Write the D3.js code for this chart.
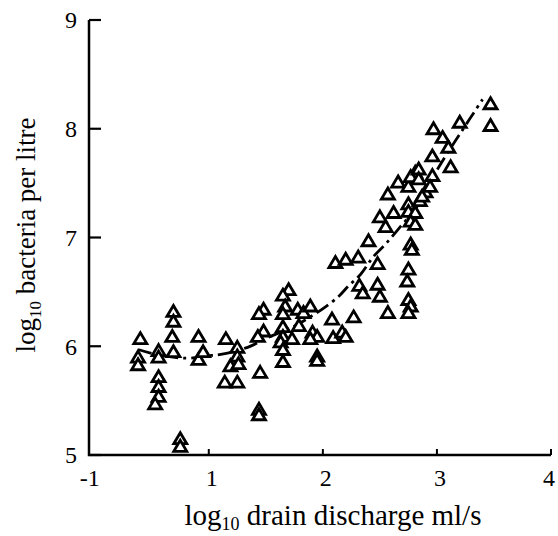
<!DOCTYPE html>
<html>
<head>
<meta charset="utf-8">
<script src="https://cdn.jsdelivr.net/npm/d3@7"></script>
<style>
  body { margin: 0; background: #fff; }
  svg { display: block; font-family: "Liberation Serif", "Times New Roman", serif; }
</style>
</head>
<body>
<div id="chart"></div>
<script>
// observed log10 discharge (ml/s) and log10 bacteria per litre
const discharge = [0.40, 0.38, 0.38, 0.56, 0.56, 0.56, 0.56, 0.56, 0.53, 0.69, 0.69, 0.68, 0.69, 0.75, 0.75,
  0.91, 0.91, 0.95, 1.15, 1.25, 1.25, 1.19, 1.26, 1.14, 1.25, 1.44, 1.44, 1.45, 1.48, 1.44, 1.48, 1.43,
  1.65, 1.65, 1.63, 1.73, 1.65, 1.65, 1.70, 1.65, 1.67, 1.65, 1.78, 1.83, 1.89, 1.79, 1.91, 1.95, 1.89,
  1.95, 1.95, 2.08, 2.09, 2.17, 2.20, 2.27, 2.11, 2.20, 2.31, 2.32, 2.35, 2.48, 2.50, 2.57, 2.75, 2.77,
  2.75, 2.48, 2.75, 2.74, 2.40, 2.50, 2.55, 2.62, 2.77, 2.78, 2.75, 2.75, 2.81, 2.77, 2.81, 2.57, 2.66,
  2.75, 2.81, 2.90, 2.85, 2.77, 2.84, 2.84, 2.96, 2.94, 2.87, 2.96, 3.12, 2.97, 3.05, 3.10, 3.20, 3.47, 3.47];
const bacteria = [6.07, 5.90, 5.83, 5.96, 5.90, 5.72, 5.63, 5.54, 5.47, 6.32, 6.23, 6.09, 5.95, 5.15, 5.08,
  6.09, 5.88, 5.95, 6.07, 5.99, 5.91, 5.82, 5.84, 5.67, 5.67, 5.42, 5.37, 5.76, 6.34, 6.30, 6.14, 6.09,
  6.18, 6.09, 6.04, 6.07, 5.97, 5.86, 6.52, 6.47, 6.37, 6.30, 6.34, 6.31, 6.37, 6.19, 6.13, 6.09, 6.07,
  5.91, 5.87, 6.25, 6.08, 6.13, 6.09, 6.27, 6.77, 6.80, 6.82, 6.56, 6.49, 6.57, 6.46, 6.31, 6.43, 6.37,
  6.31, 6.76, 6.71, 6.60, 6.97, 7.19, 7.10, 7.23, 6.94, 6.89, 7.31, 7.24, 7.23, 7.15, 7.12, 7.40, 7.51,
  7.47, 7.60, 7.42, 7.34, 7.56, 7.63, 7.54, 7.57, 7.47, 7.38, 7.75, 7.65, 8.00, 7.92, 7.83, 8.06, 8.23, 8.03];

// smoothed trend (dash-dot)
const trendX = [0.38, 0.56, 0.81, 0.97, 1.13, 1.34, 1.54, 1.76, 1.89, 2.02, 2.14, 2.22, 2.33, 2.44, 2.55, 2.68, 2.81, 2.94, 3.07, 3.20, 3.40];
const trendY = [5.97, 5.92, 5.89, 5.91, 5.93, 5.99, 6.09, 6.19, 6.27, 6.36, 6.46, 6.55, 6.66, 6.82, 6.94, 7.10, 7.26, 7.51, 7.74, 7.95, 8.27];

const xTicks = [0, 1, 2, 3, 4];
const xTickLabels = ["-1", "1", "2", "3", "4"];
const yTicks = [5, 6, 7, 8, 9];

const width = 558, height = 536;

const x = d3.scaleLinear([-0.05, 4], [89, 551]);
const y = d3.scaleLinear([5, 9], [455, 20]);

const svg = d3.select("#chart")
    .append("svg")
    .attr("width", width)
    .attr("height", height);

// axes lines
svg.append("path")
    .attr("fill", "none")
    .attr("stroke", "#000")
    .attr("stroke-width", 2.5)
    .attr("d", `M${x(-0.05)},${y(9)}V${y(5)}H${x(4)}`);

// y ticks (inward)
svg.append("g")
    .selectAll("line")
    .data(yTicks)
    .join("line")
    .attr("x1", x(-0.05))
    .attr("x2", x(-0.05) + 12)
    .attr("y1", d => y(d))
    .attr("y2", d => y(d))
    .attr("stroke", "#000")
    .attr("stroke-width", 2.2);

svg.append("g")
    .attr("font-size", 24)
    .attr("text-anchor", "end")
    .selectAll("text")
    .data(yTicks)
    .join("text")
    .attr("x", 77)
    .attr("y", d => y(d))
    .attr("dy", "0.35em")
    .text(d => d);

// x ticks (inward)
svg.append("g")
    .selectAll("line")
    .data(xTicks.slice(1))
    .join("line")
    .attr("x1", d => x(d))
    .attr("x2", d => x(d))
    .attr("y1", y(5))
    .attr("y2", y(5) - 6)
    .attr("stroke", "#000")
    .attr("stroke-width", 2);

svg.append("g")
    .attr("font-size", 24)
    .attr("text-anchor", "middle")
    .selectAll("text")
    .data(xTicks)
    .join("text")
    .attr("x", (d, i) => i === 0 ? x(d) - 5 : Math.min(x(d) + 3, 549))
    .attr("y", 486)
    .text((d, i) => xTickLabels[i]);

// axis titles
const xt = svg.append("text")
    .attr("x", 333)
    .attr("y", 525)
    .attr("font-size", 29)
    .attr("text-anchor", "middle");
xt.append("tspan").text("log");
xt.append("tspan").attr("font-size", 18).attr("dy", 5).text("10");
xt.append("tspan").attr("dy", -5).text(" drain discharge ml/s");

const yt = svg.append("text")
    .attr("transform", "translate(35,235) rotate(-90)")
    .attr("font-size", 27)
    .attr("text-anchor", "middle");
yt.append("tspan").text("log");
yt.append("tspan").attr("font-size", 17).attr("dy", 6).text("10");
yt.append("tspan").attr("dy", -6).text(" bacteria per litre");

// trend line
const line = d3.line()
    .x(d => x(d[0]))
    .y(d => y(d[1]))
    .curve(d3.curveCatmullRom);

svg.append("path")
    .datum(trendX.map((v, i) => [v, trendY[i]]))
    .attr("fill", "none")
    .attr("stroke", "#000")
    .attr("stroke-width", 2.8)
    .attr("stroke-dasharray", "14,5,3,5")
    .attr("d", line);

// open triangle markers
const tri = "M0,-6L6.5,5L-6.5,5Z";
svg.append("g")
    .attr("fill", "#fff")
    .attr("stroke", "#000")
    .attr("stroke-width", 2.8)
    .attr("stroke-linejoin", "miter")
    .selectAll("path")
    .data(discharge.map((v, i) => [v, bacteria[i]]))
    .join("path")
    .attr("transform", d => `translate(${x(d[0])},${y(d[1])})`)
    .attr("d", tri);
</script>
</body>
</html>
